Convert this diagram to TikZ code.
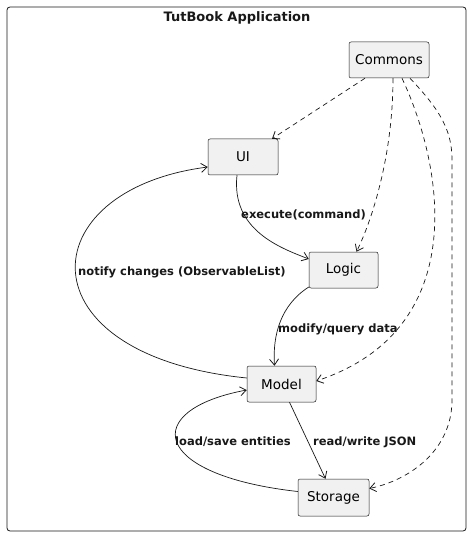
\documentclass[tikz,border=0pt]{standalone}
\usepackage{fontspec}
\setmainfont{DejaVu Sans}
\usetikzlibrary{arrows.meta}
\definecolor{boxfill}{HTML}{F1F1F1}
\definecolor{ink}{HTML}{181818}
\tikzset{
  comp/.style={draw=ink, fill=boxfill, rounded corners=2pt, line width=0.5pt, font=\fontsize{13.5}{16}\selectfont, inner sep=0pt},
  rel/.style={draw=ink, line width=0.7pt, -{Straight Barb[length=6pt,width=9pt,line width=0.8pt]}},
  dep/.style={rel, dash pattern=on 5pt off 4pt},
  lbl/.style={font=\fontsize{11.5}{14}\bfseries\selectfont, anchor=west, inner sep=0pt, text=ink},
}
\begin{document}
\begin{tikzpicture}[x=1pt,y=-1pt]
\useasboundingbox (0,0) rectangle (473,537);
\draw[ink, line width=0.8pt, rounded corners=3pt] (7,7) rectangle (466,531);
\node[font=\fontsize{13}{16}\bfseries\selectfont, text=ink] (title) at (237,18) {TutBook Application};

\node[comp, minimum width=80pt, minimum height=36pt] (commons) at (389,60) {Commons};
\node[comp, minimum width=70pt, minimum height=36pt] (ui) at (243,157) {UI};
\node[comp, minimum width=69pt, minimum height=36pt] (logic) at (343.5,270) {Logic};
\node[comp, minimum width=69pt, minimum height=36pt] (model) at (281.5,384) {Model};
\node[comp, minimum width=71pt, minimum height=37pt] (storage) at (333.5,497.5) {Storage};

% solid relations
\draw[rel] ([xshift=-6pt]ui.south) .. controls +(-6,55) and +(-28,-11) .. ([yshift=11pt]logic.west);
\draw[rel] ([yshift=-17pt]logic.west) .. controls +(-28,18) and +(-2,-31) .. ([xshift=-7pt]model.north);
\draw[rel] ([yshift=6pt]model.west) .. controls (20,355) and (30,190) .. ([yshift=-10pt]ui.west);
\draw[rel] ([xshift=8pt]model.south) -- ([xshift=-8pt]storage.north);
\draw[rel] ([yshift=6pt]storage.west) .. controls (150,475) and (140,410) .. ([yshift=-6pt]model.west);

% dependencies from Commons
\draw[dep] ([xshift=-24pt]commons.south) -- ([xshift=29pt]ui.north);
\draw[dep] ([xshift=4pt]commons.south) .. controls +(0,72) and +(18,-37) .. ([xshift=13pt]logic.north);
\draw[dep] ([xshift=13pt]commons.south) .. controls (445,170) and (470,330) .. ([yshift=3pt]model.east);
\draw[dep] ([xshift=21pt]commons.south) .. controls (440,110) and (452,130) .. (452,160) -- (452,400) .. controls (452,450) and (410,480) .. ([yshift=9pt]storage.east);

% labels
\node[lbl] (l1) at (241,215) {execute(command)};
\node[lbl] (l2) at (78,272) {notify changes (ObservableList)};
\node[lbl] (l3) at (278,329) {modify/query data};
\node[lbl] (l4) at (175,442) {load/save entities};
\node[lbl] (l5) at (313,442) {read/write JSON};
\end{tikzpicture}
\end{document}
